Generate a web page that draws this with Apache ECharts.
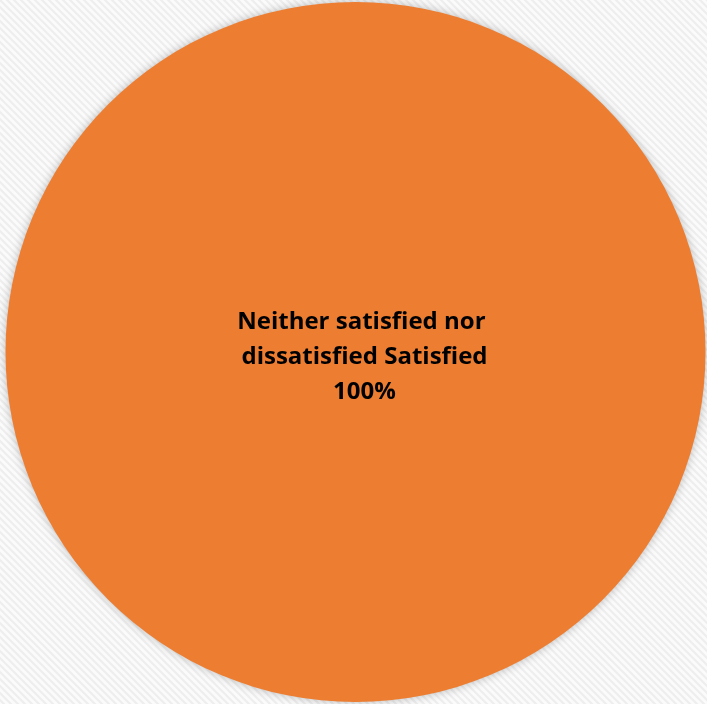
<!DOCTYPE html>
<html>
<head>
<meta charset="utf-8">
<style>
  html, body { margin: 0; padding: 0; background: #ffffff; }
  #chart { width: 707px; height: 704px; }
</style>
<script src="https://cdn.jsdelivr.net/npm/echarts@6/dist/echarts.min.js"></script>
</head>
<body>
<div id="chart"></div>
<script>
// Satisfaction responses
const categories = ['Neither satisfied nor dissatisfied Satisfied'];
const values = [100];
const colors = ['#ED7D31'];

// Light diagonal stripe texture for the background
function stripePattern() {
  const size = 7;
  const c = document.createElement('canvas');
  c.width = size; c.height = size;
  const ctx = c.getContext('2d');
  ctx.fillStyle = '#fbfbfb';
  ctx.fillRect(0, 0, size, size);
  ctx.strokeStyle = '#eeeeee';
  ctx.lineWidth = 2.2;
  ctx.beginPath();
  ctx.moveTo(-2, -2); ctx.lineTo(size + 2, size + 2);
  ctx.moveTo(-2, size - 2); ctx.lineTo(2, size + 2);
  ctx.moveTo(size - 2, -2); ctx.lineTo(size + 2, 2);
  ctx.stroke();
  return c;
}

const chart = echarts.init(document.getElementById('chart'), null, { renderer: 'canvas' });
chart.setOption({
  backgroundColor: { image: stripePattern(), repeat: 'repeat' },
  animation: false,
  series: [{
    type: 'pie',
    center: [355.5, 352],
    radius: [0, 350],
    startAngle: 90,
    data: categories.map((name, i) => ({
      name: name,
      value: values[i],
      itemStyle: { color: colors[i] }
    })),
    itemStyle: {
      shadowBlur: 10,
      shadowColor: 'rgba(0,0,0,0.25)'
    },
    label: {
      show: true,
      position: 'center',
      offset: [9, 5],
      formatter: '{b}\n{d}%',
      width: 290,
      overflow: 'break',
      color: '#000000',
      fontFamily: '"Open Sans", sans-serif',
      fontWeight: 'bold',
      fontSize: 24,
      lineHeight: 35,
      align: 'center'
    },
    labelLine: { show: false },
    emphasis: { disabled: true }
  }]
});
</script>
</body>
</html>
